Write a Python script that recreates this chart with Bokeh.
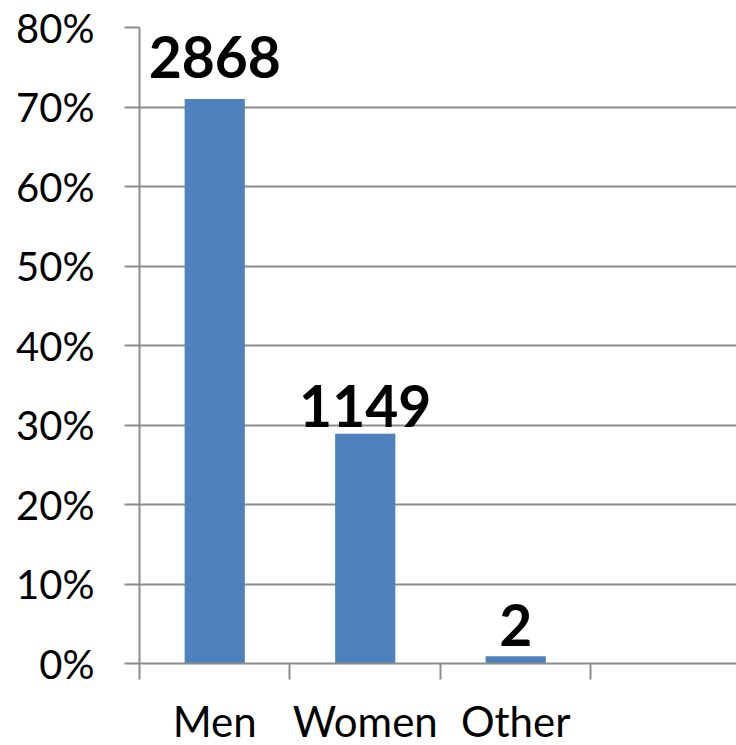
from bokeh.plotting import figure
from bokeh.models import Range1d, FixedTicker, LinearAxis
from bokeh.core.properties import value
from bokeh.embed import file_html
from bokeh.resources import INLINE

# ---- data ----
categories = ["Men", "Women", "Other"]
percentages = [71.0, 28.9, 0.9]
counts = ["2868", "1149", "2"]
y_ticks = [0, 10, 20, 30, 40, 50, 60, 70, 80]
n_slots = 4  # axis has one empty trailing slot

# ---- styles ----
FONT = "Lato"
BAR_COLOR = "#4F81BD"
GRID_COLOR = "#8C8C8C"
label_gaps_px = [22, 8, 11]   # gap between bar top and bottom of label digits
HALF_DIGIT_PX = 20            # label anchored at its middle
FRAME_H = 636
Y_MIN, Y_MAX = 0, 80

centers = [i + 0.5 for i in range(len(categories))]
px_per_unit = FRAME_H / (Y_MAX - Y_MIN)

p = figure(
    width=736, height=745,
    frame_width=597, frame_height=FRAME_H,
    x_range=Range1d(0, 3.967), y_range=Range1d(Y_MIN, Y_MAX),
    output_backend="svg", toolbar_location=None,
    min_border_left=139, min_border_right=0,
    min_border_top=27, min_border_bottom=82,
)
p.outline_line_color = None
p.background_fill_color = "white"
p.border_fill_color = "white"

p.vbar(x=centers, top=percentages, width=0.4,
       fill_color=BAR_COLOR, line_color=None)

label_y = [v + (g + HALF_DIGIT_PX) / px_per_unit
           for v, g in zip(percentages, label_gaps_px)]
p.text(x=centers, y=label_y, text=counts,
       text_align="center", text_baseline="middle",
       text_font=value(FONT), text_font_style="bold",
       text_font_size="57px", text_color="black")

# y axis
ya = p.yaxis[0]
ya.ticker = FixedTicker(ticks=y_ticks)
ya.major_label_overrides = {t: f"{t}%" for t in y_ticks}
ya.major_label_text_font = FONT
ya.major_label_text_font_size = "40px"
ya.major_label_text_color = "black"
ya.major_label_standoff = 30
ya.major_tick_out = 15
ya.major_tick_in = 0
ya.minor_tick_line_color = None
ya.axis_line_color = GRID_COLOR
ya.axis_line_width = 2
ya.major_tick_line_color = GRID_COLOR
ya.major_tick_line_width = 2

# x axis: boundary ticks
xa = p.xaxis[0]
xa.ticker = FixedTicker(ticks=list(range(n_slots)))
xa.major_label_overrides = {i: "" for i in range(n_slots)}
xa.major_label_text_font_size = "1px"
xa.major_label_standoff = 0
xa.major_tick_out = 16
xa.major_tick_in = 0
xa.minor_tick_line_color = None
xa.axis_line_color = GRID_COLOR
xa.axis_line_width = 2
xa.major_tick_line_color = GRID_COLOR
xa.major_tick_line_width = 2

# x axis: category labels at centers
xb = LinearAxis(ticker=FixedTicker(ticks=centers))
xb.major_label_overrides = {c: name for c, name in zip(centers, categories)}
xb.major_label_text_font = FONT
xb.major_label_text_font_size = "42px"
xb.major_label_text_color = "black"
xb.major_label_standoff = 10
xb.axis_line_color = None
xb.major_tick_line_color = None
xb.minor_tick_line_color = None
p.add_layout(xb, "below")

p.xgrid.grid_line_color = None
p.ygrid.ticker = FixedTicker(ticks=y_ticks)
p.ygrid.grid_line_color = GRID_COLOR
p.ygrid.grid_line_width = 2

open("out.html", "w").write(file_html(p, INLINE))
